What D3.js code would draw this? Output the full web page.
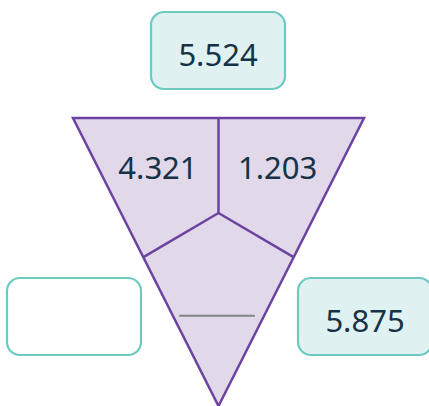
<!DOCTYPE html>
<html>
<head>
<meta charset="utf-8">
<script src="https://cdn.jsdelivr.net/npm/d3@7"></script>
<style>
  html, body { margin: 0; padding: 0; background: #fff; }
  svg { display: block; }
</style>
</head>
<body>
<div id="chart"></div>
<script>
// Part-whole triangle: two known parts on top, the bottom part left blank
const partLabels = ['4.321', '1.203', ''];
const answerLabels = ['5.524', '', '5.875'];
const answerFilled = [true, false, true];

const width = 429;
const height = 406;

// unit layout space -> pixels
const x = d3.scaleLinear().domain([0, 1]).range([73, 364]);
const y = d3.scaleLinear().domain([0, 1]).range([118, 406]);

const svg = d3.select('#chart')
  .append('svg')
  .attr('width', width)
  .attr('height', height);

const g = svg.append('g');

const centre = [0.5, 0.33];
const leftMid = [0.242, 0.483];
const rightMid = [0.758, 0.483];

// triangle body
g.append('path')
  .attr('d', d3.line()([[x(0), y(0)], [x(1), y(0)], [x(0.5), y(1)]]) + 'Z')
  .attr('fill', '#e1d9e9')
  .attr('stroke', '#6c43a0')
  .attr('stroke-width', 2.5)
  .attr('stroke-linejoin', 'miter');

// dividers
const spokes = [
  [[0.5, 0], centre],
  [centre, leftMid],
  [centre, rightMid],
];
g.append('g')
  .selectAll('line')
  .data(spokes)
  .join('line')
  .attr('x1', d => x(d[0][0]))
  .attr('y1', d => y(d[0][1]))
  .attr('x2', d => x(d[1][0]))
  .attr('y2', d => y(d[1][1]))
  .attr('stroke', '#6c43a0')
  .attr('stroke-width', 2.5);

// blank answer line in bottom part
g.append('line')
  .attr('x1', x(0.365))
  .attr('x2', x(0.625))
  .attr('y1', y(0.687))
  .attr('y2', y(0.687))
  .attr('stroke', '#858585')
  .attr('stroke-width', 2);

const font = "'Noto Sans', sans-serif";
const partPos = [[0.292, 0.213], [0.703, 0.213]];

g.append('g')
  .selectAll('text')
  .data(partLabels.slice(0, 2))
  .join('text')
  .attr('x', (d, i) => x(partPos[i][0]))
  .attr('y', (d, i) => y(partPos[i][1]))
  .attr('text-anchor', 'middle')
  .attr('font-family', font)
  .attr('font-size', 31)
  .attr('fill', '#163246')
  .text(d => d);

// answer boxes
const boxes = [
  { x: 151, y: 12 },
  { x: 7, y: 278 },
  { x: 298, y: 278 },
];
const boxW = 134;
const boxH = 77;

const box = g.append('g')
  .selectAll('g')
  .data(answerLabels)
  .join('g')
  .attr('transform', (d, i) => `translate(${boxes[i].x},${boxes[i].y})`);

box.append('rect')
  .attr('width', boxW)
  .attr('height', boxH)
  .attr('rx', 13)
  .attr('fill', (d, i) => answerFilled[i] ? '#dff1f1' : '#ffffff')
  .attr('stroke', '#6ccac1')
  .attr('stroke-width', 2.2);

box.append('text')
  .attr('x', boxW / 2)
  .attr('y', 54)
  .attr('text-anchor', 'middle')
  .attr('font-family', font)
  .attr('font-size', 31)
  .attr('fill', '#163246')
  .text(d => d);
</script>
</body>
</html>
